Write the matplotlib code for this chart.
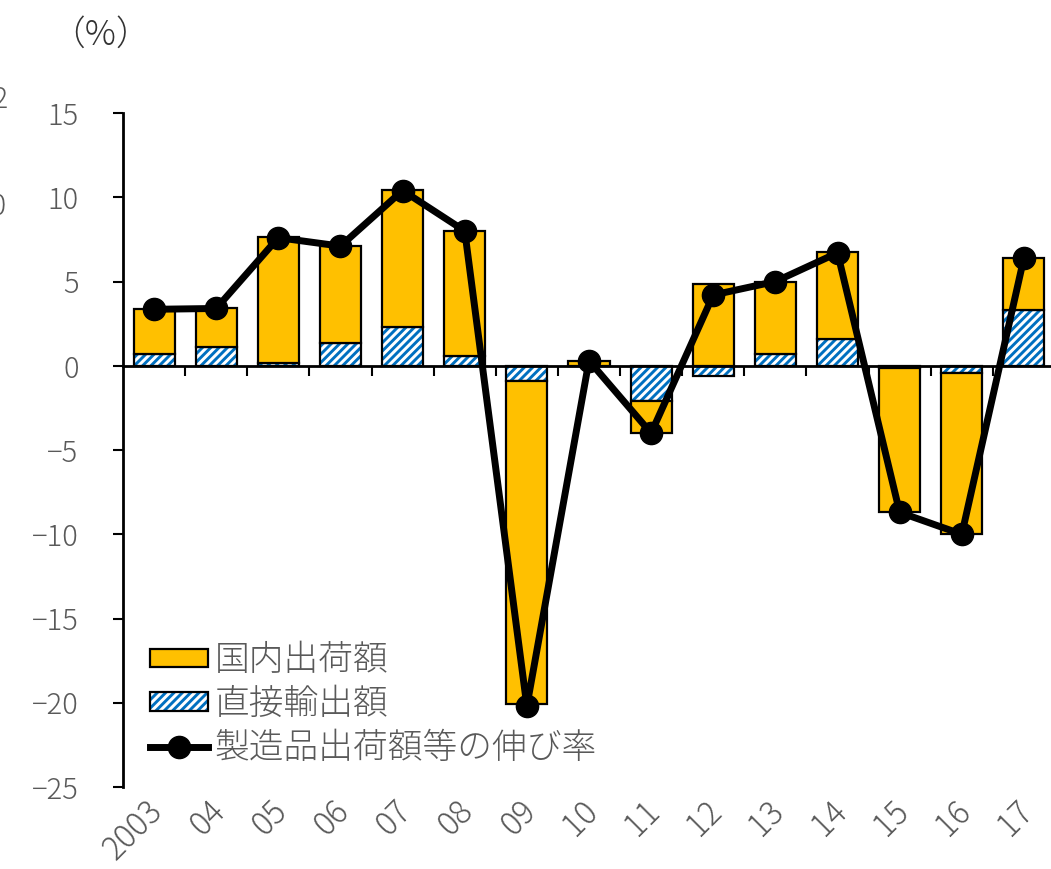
import matplotlib
matplotlib.use("Agg")
import matplotlib.pyplot as plt
import numpy as np
from matplotlib.patches import Patch
from matplotlib.lines import Line2D
from matplotlib.legend_handler import HandlerTuple
import matplotlib.transforms as mtransforms

plt.rcParams['font.family'] = ['Noto Sans CJK JP', 'DejaVu Sans']
plt.rcParams['hatch.linewidth'] = 2.1

years = ["2003", "04", "05", "06", "07", "08", "09", "10", "11", "12", "13", "14", "15", "16", "17"]
domestic = [2.68, 2.34, 7.5, 5.75, 8.15, 7.4, -19.2, 0.3, -1.9, 4.87, 4.3, 5.15, -8.55, -9.55, 3.1]
export = [0.7, 1.1, 0.15, 1.35, 2.3, 0.6, -0.9, 0.0, -2.1, -0.6, 0.7, 1.6, -0.15, -0.45, 3.3]
growth = [3.35, 3.4, 7.6, 7.1, 10.4, 8.0, -20.2, 0.3, -4.0, 4.2, 5.0, 6.7, -8.7, -10.0, 6.4]
yticks = [15, 10, 5, 0, -5, -10, -15, -20, -25]
labels = ["国内出荷額", "直接輸出額", "製造品出荷額等の伸び率"]

YELLOW = "#FFC000"
BLUE = "#0070C0"
GRAY = "#595959"

W, H = 1051, 869
fig = plt.figure(figsize=(W / 100, H / 100), dpi=100)
ax = fig.add_axes([123 / W, 1 - 787 / H, (1055 - 123) / W, (787 - 113) / H])

x = np.arange(len(years))
dom = np.array(domestic)
exp_ = np.array(export)
dom_bottom = np.where(np.sign(dom) == np.sign(exp_), exp_, 0.0)
bw = 0.66

ax.bar(x, exp_, width=bw, color="white", edgecolor=BLUE, hatch="////", linewidth=0, zorder=2)
ax.bar(x, exp_, width=bw, fill=False, edgecolor="black", linewidth=1.6, zorder=3)
ax.bar(x, dom, bottom=dom_bottom, width=bw, color=YELLOW, edgecolor="black", linewidth=1.6, zorder=3)
ax.plot(x, growth, color="black", linewidth=5, marker="o", markersize=16, zorder=5)

ax.set_xlim(-0.5, len(years) - 0.5)
ax.set_ylim(-25, 15)
ax.set_yticks(yticks)
ax.set_yticklabels([str(v).replace("-", "−") for v in yticks], color=GRAY, fontsize=21,
                   fontweight="light")
ax.tick_params(axis="y", direction="out", length=7, width=1.5, pad=25)

for s in ["top", "right"]:
    ax.spines[s].set_visible(False)
ax.spines["left"].set_linewidth(2)
ax.spines["bottom"].set_position(("data", 0))
ax.spines["bottom"].set_linewidth(2)
ax.set_xticks(x[:-1] + 0.5)
ax.set_xticklabels([])
ax.tick_params(axis="x", direction="out", length=7, width=1.5)

trans = mtransforms.blended_transform_factory(ax.transData, fig.transFigure)
for i, lab in enumerate(years):
    ax.text(i + 0.06, 1 - 806 / H, lab, transform=trans, rotation=45, rotation_mode="anchor",
            ha="right", va="center", color=GRAY, fontsize=23, fontweight="light")

fig.text(101 / W, 1 - 35 / H, "（%）", ha="center", va="center", fontsize=25, color="#333333",
         fontweight="light")
fig.text(9 / W, 1 - 100 / H, "12", ha="right", va="center", fontsize=21, color=GRAY,
         fontweight="light")
fig.text(7 / W, 1 - 207 / H, "10", ha="right", va="center", fontsize=21, color=GRAY,
         fontweight="light")

h1 = Patch(facecolor=YELLOW, edgecolor="black", linewidth=1.6)
h2a = Patch(facecolor="white", edgecolor=BLUE, hatch="////", linewidth=0)
h2b = Patch(fill=False, edgecolor="black", linewidth=1.6)
h3 = Line2D([], [], color="black", linewidth=5, marker="o", markersize=16)
leg = fig.legend([h1, (h2a, h2b), h3], labels, loc="upper left",
                 bbox_to_anchor=(119 / W, 1 - 611 / H), frameon=False,
                 prop={"weight": "light", "size": 25},
                 handlelength=1.65, handleheight=0.45, handletextpad=0.2, labelspacing=0.22,
                 handler_map={tuple: HandlerTuple(ndivide=1, pad=0)})
for t in leg.get_texts():
    t.set_color(GRAY)

fig.savefig("out.png", dpi=100)
